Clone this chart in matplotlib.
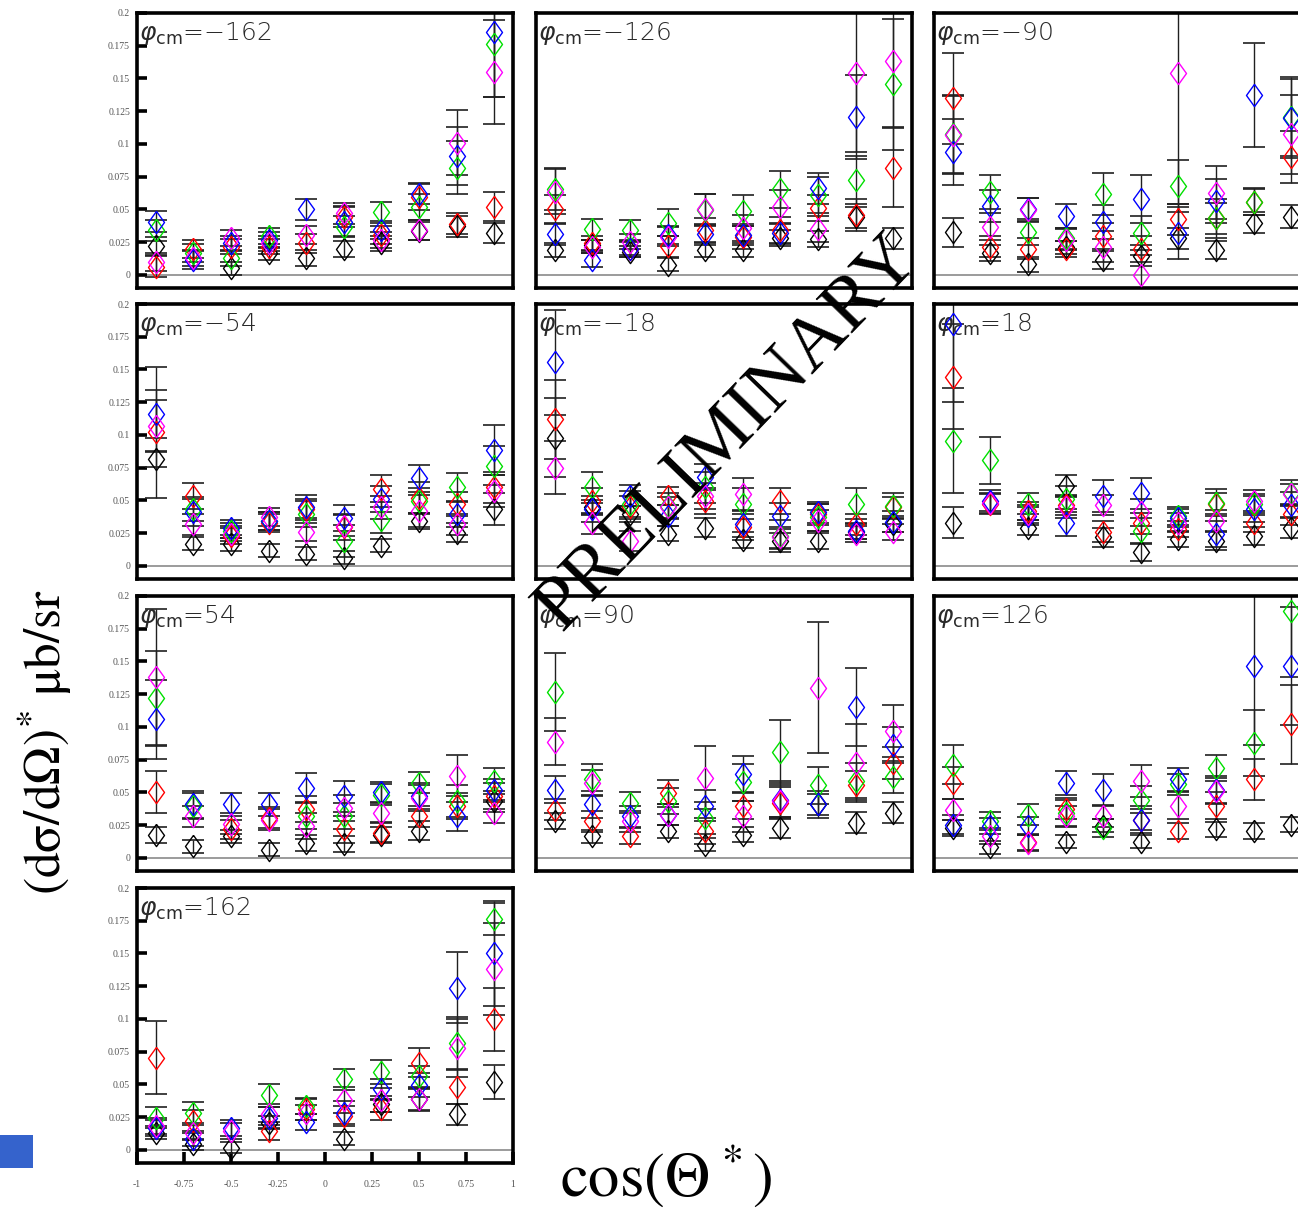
import numpy as np
import matplotlib
matplotlib.use("Agg")
import matplotlib.pyplot as plt
from matplotlib.patches import Rectangle

nan = np.nan

# ---------------- data ----------------
cos_theta = [-0.9, -0.7, -0.5, -0.3, -0.1, 0.1, 0.3, 0.5, 0.7, 0.9]
phi_labels = ["-162", "-126", "-90", "-54", "-18", "18", "54", "90", "126", "162"]
series_colors = ["#000000", "#ff0000", "#00e000", "#0000ff", "#ff00ff"]  # black, red, green, blue, magenta

# values per panel: [black, red, green, blue, magenta]
v_m162 = [
    [0.022, nan, 0.005, 0.0165, 0.0127, 0.020, 0.024, 0.0336, 0.037, 0.032],
    [0.0064, 0.020, 0.0216, 0.0216, 0.024, 0.0445, 0.0305, 0.0597, 0.039, 0.052],
    [0.034, 0.0165, 0.0127, 0.0297, nan, 0.0369, 0.0478, 0.052, 0.082, 0.176],
    [0.0407, 0.0114, 0.024, 0.0267, 0.050, 0.0407, 0.0343, 0.062, 0.091, 0.1856],
    [0.010, 0.0127, 0.028, 0.024, 0.0305, 0.047, 0.0267, 0.0343, 0.101, 0.155],
]
e_m162 = [
    [0.007, 0.005, 0.005, 0.005, 0.006, 0.006, 0.006, 0.007, 0.008, 0.008],
    [0.008, 0.007, 0.006, 0.006, 0.007, 0.008, 0.007, 0.010, 0.008, 0.011],
    [0.008, 0.007, 0.006, 0.006, 0.007, 0.008, 0.008, 0.010, 0.020, 0.040],
    [0.008, 0.007, 0.006, 0.006, 0.008, 0.011, 0.007, 0.008, 0.022, 0.050],
    [0.007, 0.006, 0.006, 0.006, 0.007, 0.008, 0.006, 0.008, 0.025, 0.040],
]

v_m126 = [
    [0.019, 0.0229, 0.0178, 0.0076, 0.019, 0.019, 0.028, 0.0272, 0.044, 0.028],
    [0.0503, 0.024, 0.020, 0.022, 0.0343, 0.0287, 0.0343, 0.0508, 0.0458, 0.082],
    [0.0653, 0.0348, 0.0343, 0.040, 0.0496, 0.049, 0.0653, 0.061, 0.0725, 0.1457],
    [0.031, 0.0114, 0.020, 0.0305, 0.031, 0.0305, 0.0318, 0.066, 0.1208, nan],
    [0.0636, 0.0216, 0.0254, 0.0292, 0.050, 0.0356, 0.052, 0.0348, 0.154, 0.163],
]
e_m126 = [
    [0.005, 0.004, 0.004, 0.005, 0.005, 0.005, 0.006, 0.006, 0.008, 0.008],
    [0.011, 0.006, 0.006, 0.008, 0.009, 0.009, 0.010, 0.010, 0.012, 0.030],
    [0.016, 0.008, 0.008, 0.010, 0.012, 0.012, 0.014, 0.014, 0.018, 0.050],
    [0.008, 0.005, 0.005, 0.007, 0.008, 0.008, 0.008, 0.012, 0.032, 0.060],
    [0.017, 0.005, 0.006, 0.007, 0.012, 0.010, 0.013, 0.010, 0.060, 0.050],
]

v_m90 = [
    [0.0325, 0.0165, 0.008, 0.021, 0.0114, 0.0145, 0.028, 0.019, 0.040, 0.0445],
    [0.1348, 0.0216, 0.020, 0.020, 0.0297, 0.020, 0.0425, 0.0432, 0.056, 0.090],
    [0.1075, 0.0636, 0.033, 0.028, 0.0615, 0.0318, 0.068, 0.0432, 0.0554, 0.1208],
    [0.094, 0.0526, 0.050, 0.045, 0.0407, 0.058, 0.0318, 0.0564, 0.1373, 0.1195],
    [0.1068, 0.0369, 0.0496, 0.0267, 0.0216, 0.0, 0.154, 0.0628, nan, 0.1073],
]
e_m90 = [
    [0.011, 0.006, 0.006, 0.005, 0.007, 0.008, 0.008, 0.007, 0.008, 0.009],
    [0.035, 0.008, 0.008, 0.006, 0.010, 0.010, 0.012, 0.012, 0.010, 0.020],
    [0.030, 0.013, 0.010, 0.008, 0.016, 0.013, 0.020, 0.015, 0.010, 0.030],
    [0.025, 0.012, 0.009, 0.009, 0.013, 0.018, 0.020, 0.017, 0.040, 0.030],
    [0.030, 0.010, 0.009, 0.008, 0.012, 0.015, 0.100, 0.020, 0.010, 0.030],
]

v_m54 = [
    [0.0815, 0.017, 0.0166, 0.0115, 0.0094, 0.0064, 0.0153, 0.0344, 0.0255, 0.0433],
    [0.102, 0.0535, 0.0229, 0.033, 0.0433, 0.030, 0.0591, 0.0522, 0.0471, 0.0599],
    [nan, 0.0433, 0.027, 0.0344, 0.0395, 0.019, 0.035, 0.0497, 0.0599, 0.0764],
    [0.116, 0.0408, 0.0293, 0.0344, 0.0453, 0.0364, 0.051, 0.0668, 0.0395, 0.0884],
    [0.107, 0.0318, 0.0247, 0.0375, 0.026, 0.0306, 0.0446, 0.042, 0.0318, 0.0573],
]
e_m54 = [
    [0.006, 0.005, 0.005, 0.005, 0.005, 0.005, 0.005, 0.006, 0.007, 0.012],
    [0.050, 0.010, 0.006, 0.007, 0.008, 0.010, 0.010, 0.012, 0.009, 0.012],
    [0.030, 0.009, 0.006, 0.007, 0.010, 0.012, 0.010, 0.010, 0.011, 0.015],
    [0.018, 0.010, 0.006, 0.007, 0.009, 0.010, 0.010, 0.010, 0.010, 0.019],
    [0.020, 0.008, 0.006, 0.007, 0.007, 0.008, 0.009, 0.012, 0.008, 0.012],
]

v_m18 = [
    [0.098, 0.0446, 0.0395, 0.0247, 0.0293, 0.0199, 0.019, 0.019, 0.0262, 0.0318],
    [0.112, 0.0497, 0.0446, 0.0535, 0.0497, 0.030, 0.0497, 0.0395, 0.0318, 0.0446],
    [nan, 0.0599, 0.0471, 0.0459, 0.0599, 0.0476, 0.0229, 0.037, 0.0476, 0.0459],
    [0.1554, 0.0433, 0.0535, 0.0382, 0.068, 0.0318, 0.0382, 0.0408, 0.0268, 0.0339],
    [0.075, 0.0324, 0.019, 0.0446, 0.0535, 0.0548, 0.0217, 0.0344, 0.0242, 0.026],
]
e_m18 = [
    [0.030, 0.006, 0.006, 0.006, 0.007, 0.006, 0.006, 0.006, 0.006, 0.006],
    [0.030, 0.010, 0.009, 0.007, 0.010, 0.010, 0.010, 0.008, 0.008, 0.008],
    [0.100, 0.012, 0.010, 0.010, 0.012, 0.012, 0.012, 0.010, 0.012, 0.010],
    [0.040, 0.010, 0.008, 0.008, 0.010, 0.010, 0.010, 0.008, 0.006, 0.008],
    [0.020, 0.008, 0.008, 0.008, 0.010, 0.012, 0.008, 0.008, 0.006, 0.006],
]

v_p18 = [
    [0.0331, nan, 0.0293, 0.0611, 0.0217, 0.0107, 0.0204, 0.019, 0.0229, 0.0293],
    [0.1446, 0.0476, 0.042, 0.0465, 0.0262, 0.0324, 0.028, 0.0476, 0.0331, 0.0395],
    [0.0955, 0.0807, 0.0476, 0.051, nan, 0.0268, 0.0382, 0.0484, 0.047, 0.0555],
    [0.185, 0.0497, 0.0382, 0.0331, 0.0535, 0.0555, 0.0364, 0.0242, 0.0433, 0.0465],
    [nan, 0.048, 0.0395, 0.0446, 0.0465, 0.0408, 0.0331, 0.0344, 0.0497, 0.0548],
]
e_p18 = [
    [0.012, 0.006, 0.006, 0.008, 0.007, 0.007, 0.006, 0.007, 0.007, 0.008],
    [0.040, 0.007, 0.007, 0.008, 0.008, 0.008, 0.006, 0.008, 0.007, 0.008],
    [0.040, 0.018, 0.008, 0.010, 0.010, 0.010, 0.007, 0.010, 0.008, 0.010],
    [0.060, 0.008, 0.007, 0.010, 0.012, 0.012, 0.007, 0.010, 0.010, 0.010],
    [0.050, 0.008, 0.007, 0.008, 0.008, 0.010, 0.007, 0.008, 0.008, 0.008],
]

v_p54 = [
    [0.0173, 0.0089, 0.0166, 0.0064, 0.0115, 0.0107, 0.0178, 0.0209, nan, 0.0433],
    [0.0504, nan, 0.0217, 0.0306, 0.0375, 0.0217, 0.0191, 0.0318, 0.0395, 0.0471],
    [0.1218, 0.0395, nan, nan, 0.0318, 0.0318, 0.0484, 0.0573, 0.0433, 0.0586],
    [0.1057, 0.0408, 0.0408, 0.0408, 0.0535, 0.0471, 0.0502, 0.0471, 0.0318, 0.0522],
    [0.138, 0.0318, 0.0262, 0.0293, 0.0242, 0.0382, 0.0344, 0.0459, 0.0629, 0.0344],
]
e_p54 = [
    [0.006, 0.005, 0.005, 0.005, 0.006, 0.006, 0.006, 0.007, 0.008, 0.008],
    [0.016, 0.008, 0.007, 0.008, 0.010, 0.010, 0.008, 0.008, 0.010, 0.010],
    [0.036, 0.010, 0.008, 0.008, 0.010, 0.010, 0.008, 0.008, 0.012, 0.010],
    [0.030, 0.010, 0.009, 0.009, 0.011, 0.012, 0.008, 0.010, 0.011, 0.008],
    [0.052, 0.008, 0.008, 0.008, 0.010, 0.010, 0.008, 0.010, 0.016, 0.008],
]

v_p90 = [
    [0.028, 0.0166, nan, 0.0204, 0.0102, 0.0178, 0.0229, 0.0408, 0.0268, 0.0344],
    [0.0369, 0.028, 0.0166, 0.0492, 0.0204, 0.040, 0.042, nan, 0.056, 0.0726],
    [0.1266, 0.0599, 0.042, 0.0433, 0.0306, 0.0578, 0.081, 0.0553, 0.0586, 0.0617],
    [0.0522, 0.0408, 0.0318, 0.0331, 0.040, 0.0637, 0.0446, 0.0408, 0.1154, 0.0861],
    [0.0887, 0.0573, 0.028, 0.0331, 0.0611, 0.0318, 0.0433, 0.1299, 0.0726, 0.0968],
]
e_p90 = [
    [0.006, 0.005, 0.005, 0.005, 0.005, 0.006, 0.008, 0.008, 0.008, 0.008],
    [0.008, 0.008, 0.006, 0.010, 0.010, 0.010, 0.012, 0.010, 0.010, 0.012],
    [0.030, 0.012, 0.008, 0.010, 0.012, 0.014, 0.024, 0.014, 0.014, 0.012],
    [0.010, 0.010, 0.008, 0.008, 0.012, 0.014, 0.014, 0.010, 0.030, 0.014],
    [0.018, 0.010, 0.008, 0.008, 0.024, 0.012, 0.012, 0.050, 0.030, 0.020],
]

v_p126 = [
    [0.0229, 0.0082, nan, 0.0122, 0.0247, 0.0122, nan, 0.0217, 0.0204, 0.0255],
    [0.0573, nan, 0.0122, 0.0375, nan, 0.0293, 0.0204, 0.040, 0.0599, 0.1019],
    [0.0713, 0.028, 0.0331, 0.0344, 0.0229, 0.0446, 0.0561, 0.0688, 0.0876, 0.1885],
    [0.0255, 0.0242, 0.0242, 0.0573, 0.0522, 0.0293, 0.0599, 0.0522, 0.1465, 0.1465],
    [0.0369, 0.0166, 0.0115, 0.0318, 0.0318, 0.0586, 0.040, 0.051, nan, nan],
]
e_p126 = [
    [0.006, 0.005, 0.005, 0.005, 0.005, 0.005, 0.005, 0.006, 0.006, 0.006],
    [0.012, 0.006, 0.006, 0.008, 0.007, 0.008, 0.006, 0.010, 0.016, 0.030],
    [0.015, 0.007, 0.008, 0.010, 0.007, 0.010, 0.008, 0.010, 0.025, 0.050],
    [0.007, 0.006, 0.007, 0.009, 0.012, 0.010, 0.009, 0.010, 0.060, 0.045],
    [0.008, 0.006, 0.006, 0.008, 0.008, 0.012, 0.010, 0.010, 0.010, 0.010],
]

v_p162 = [
    [0.0132, 0.0043, 0.0018, 0.0208, nan, 0.0086, 0.0348, 0.0386, 0.0272, 0.0518],
    [0.0704, 0.0221, nan, 0.0145, 0.031, 0.0259, 0.031, 0.0666, 0.0483, 0.0996],
    [0.0247, 0.0285, nan, 0.0417, 0.0335, 0.0539, 0.0595, 0.0564, 0.0818, 0.1764],
    [0.017, 0.0081, 0.017, 0.0247, 0.0213, 0.0285, 0.0463, 0.0496, 0.1238, 0.150],
    [0.0183, 0.0132, 0.0145, 0.0272, 0.0285, 0.0381, 0.0379, 0.0386, 0.078, 0.1382],
]
e_p162 = [
    [0.005, 0.004, 0.004, 0.005, 0.005, 0.005, 0.006, 0.008, 0.008, 0.013],
    [0.028, 0.008, 0.006, 0.007, 0.008, 0.008, 0.008, 0.011, 0.013, 0.024],
    [0.008, 0.008, 0.006, 0.009, 0.006, 0.008, 0.009, 0.008, 0.020, 0.012],
    [0.006, 0.005, 0.006, 0.008, 0.006, 0.009, 0.008, 0.009, 0.027, 0.040],
    [0.006, 0.006, 0.006, 0.008, 0.006, 0.010, 0.009, 0.009, 0.022, 0.035],
]

panel_values = [v_m162, v_m126, v_m90, v_m54, v_m18, v_p18, v_p54, v_p90, v_p126, v_p162]
panel_errors = [e_m162, e_m126, e_m90, e_m54, e_m18, e_p18, e_p54, e_p90, e_p126, e_p162]

ytick_vals = [0, 0.025, 0.05, 0.075, 0.1, 0.125, 0.15, 0.175, 0.2]
ytick_labels = ["0", "0.025", "0.05", "0.075", "0.1", "0.125", "0.15", "0.175", "0.2"]
xtick_vals = [-1, -0.75, -0.5, -0.25, 0, 0.25, 0.5, 0.75, 1]
xtick_labels = ["-1", "-0.75", "-0.5", "-0.25", "0", "0.25", "0.5", "0.75", "1"]

# ---------------- figure ----------------
W, H = 1298, 1214
fig = plt.figure(figsize=(W / 100, H / 100), dpi=100)
plt.rcParams["mathtext.fontset"] = "dejavusans"

col_left = [137, 536, 934]
row_top = [13, 304, 596, 888]
pw, ph = 376, 275

diamond = [(0, 1), (0.72, 0), (0, -1), (-0.72, 0), (0, 1)]

for i, (vals, errs) in enumerate(zip(panel_values, panel_errors)):
    r, c = divmod(i, 3)
    left = col_left[c] / W
    bottom = 1 - (row_top[r] + ph) / H
    ax = fig.add_axes([left, bottom, pw / W, ph / H])
    ax.set_xlim(-1, 1)
    ax.set_ylim(-0.01, 0.2)
    for sp in ax.spines.values():
        sp.set_linewidth(2.6)
        sp.set_color("black")
    ax.axhline(0, color="#8a8a8a", lw=1.2, zorder=1)

    for s in range(5):
        ax.errorbar(cos_theta, vals[s], yerr=errs[s], fmt="none",
                    ecolor="#202020", elinewidth=1.0, capsize=8, capthick=1.2,
                    zorder=2)
    for s in range(5):
        ax.plot(cos_theta, vals[s], linestyle="none", marker=diamond,
                markersize=16, markerfacecolor="none",
                markeredgecolor=series_colors[s], markeredgewidth=1.0,
                zorder=3 + s)

    label = r"$\varphi_{\mathrm{cm}}$" + "=" + phi_labels[i].replace("-", "\u2212")
    ax.text(0.004, 0.925, label, transform=ax.transAxes, fontsize=18,
            color="#2a2a2a", ha="left", va="center", family="DejaVu Sans",
            fontweight="light")

    if c == 0:
        ax.set_yticks(ytick_vals)
        ax.set_yticklabels(ytick_labels, family="Liberation Serif", fontsize=7,
                           color="#555555")
        ax.tick_params(axis="y", direction="in", length=7, width=2.6, pad=5,
                       left=True, right=False)
    else:
        ax.set_yticks([])
    if i == 9:
        ax.set_xticks(xtick_vals)
        ax.set_xticklabels(xtick_labels, family="Liberation Serif", fontsize=7,
                           color="#555555")
        ax.tick_params(axis="x", direction="in", length=8, width=2.6, pad=12,
                       bottom=True, top=False)
    else:
        ax.set_xticks([])

# axis titles
plt.rcParams["mathtext.fontset"] = "stix"
fig.text(45 / W, 1 - 742 / H,
         r"$\mathrm{(d}\mathrm{\sigma}\mathrm{/d}\Omega\mathrm{)}^{*}\ \mathrm{\mu b/sr}$",
         rotation=90, fontsize=37, ha="center", va="center")
fig.text(666 / W, 1 - 1176 / H, r"$\mathrm{cos(}\Theta^{\,*}\mathrm{)}$",
         fontsize=45, ha="center", va="center")

# watermark
fig.text(728 / W, 1 - 433 / H, "PRELIMINARY", family="Liberation Serif",
         fontsize=55, rotation=46, ha="center", va="center", color="black",
         zorder=20)

# small blue square bottom-left
fig.patches.append(Rectangle((0, 1 - 1168 / H), 33 / W, 33 / H,
                             transform=fig.transFigure, facecolor="#3563cc",
                             edgecolor="none"))

fig.savefig("out.png", dpi=100)
